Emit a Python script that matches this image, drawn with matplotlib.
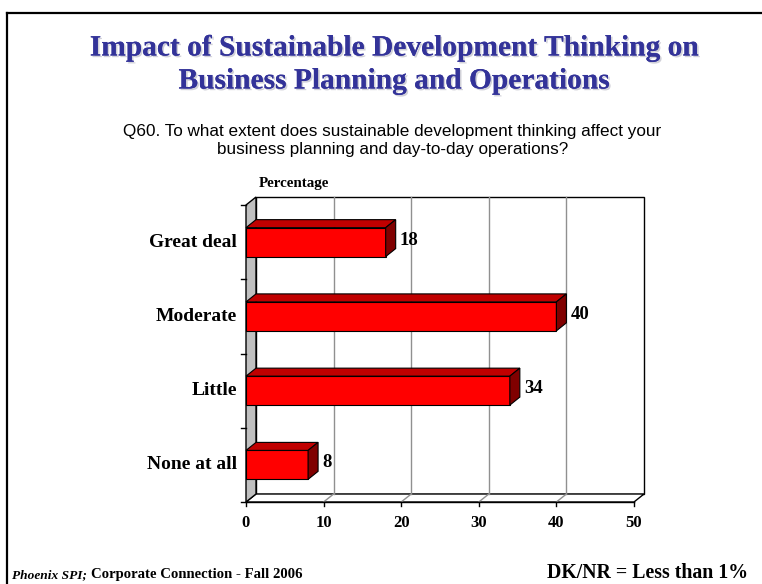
"""3D-style horizontal bar chart: sustainable development thinking impact."""

import matplotlib
matplotlib.use("Agg")
import matplotlib.pyplot as plt
import matplotlib.patheffects as pe
from matplotlib.patches import Polygon, Rectangle

categories = ["None at all", "Little", "Moderate", "Great deal"]
values = [8, 34, 40, 18]
xticks = [0, 10, 20, 30, 40, 50]

SERIF = "Liberation Serif"
SANS = "Liberation Sans"

W, H = 762, 584
fig = plt.figure(figsize=(W / 100, H / 100), dpi=100)

# frame lines (top and left)
fig.add_artist(plt.Line2D([7 / W, 1], [1 - 13 / H, 1 - 13 / H], color="black", lw=1.6))
fig.add_artist(plt.Line2D([7 / W, 7 / W], [0, 1 - 13 / H], color="black", lw=1.6))

# front plane of the plot in pixels: x 246..634, y 205..502
left, right, top, bottom = 246, 634, 205, 502
ax = fig.add_axes([left / W, 1 - bottom / H, (right - left) / W, (bottom - top) / H])
ax.set_xlim(0, 50)
ax.set_ylim(-0.5, 3.5)
ax.axis("off")

px_x = 50 / (right - left)
px_y = 4 / (bottom - top)
DX = 10 * px_x
DY = 8 * px_y
y0, y1 = -0.5, 3.5

# back wall
ax.add_patch(Rectangle((DX, y0 + DY), 50, y1 - y0, facecolor="white",
                       edgecolor="black", lw=1.0, clip_on=False, zorder=1))
# floor
ax.add_patch(Polygon([(0, y0), (50, y0), (50 + DX, y0 + DY), (DX, y0 + DY)],
                     closed=True, facecolor="white", edgecolor="black", lw=1.0,
                     clip_on=False, zorder=1))
# gridlines on back wall and floor
for t in xticks[1:-1]:
    ax.plot([t + DX, t + DX], [y0 + DY, y1 + DY], color="#909090", lw=1.0,
            clip_on=False, zorder=2)
    ax.plot([t, t + DX], [y0, y0 + DY], color="#909090", lw=1.0,
            clip_on=False, zorder=2)
# left wall
ax.add_patch(Polygon([(0, y0), (DX, y0 + DY), (DX, y1 + DY), (0, y1)],
                     closed=True, facecolor="#C0C0C0", edgecolor="black", lw=1.0,
                     clip_on=False, zorder=3))

# axis ticks
for i in range(len(categories) + 1):
    yy = y0 + i
    ax.plot([-5 * px_x, 0], [yy, yy], color="black", lw=1.0, clip_on=False, zorder=3)
for t in xticks:
    ax.plot([t, t], [y0, y0 - 4 * px_y], color="black", lw=1.0, clip_on=False, zorder=3)
    ax.text(t, y0 - 13 * px_y, str(t), ha="center", va="top", family=SERIF,
            fontweight="bold", fontsize=12)
ax.plot([0, 50], [y0, y0], color="black", lw=1.0, clip_on=False, zorder=3)

# bars
bh = 0.39
for i, (cat, v) in enumerate(zip(categories, values)):
    lo, hi = i - bh / 2, i + bh / 2
    ax.add_patch(Rectangle((0, lo), v, bh, facecolor="#FF0000", edgecolor="black",
                           lw=0.8, clip_on=False, zorder=5))
    ax.add_patch(Polygon([(0, hi), (v, hi), (v + DX, hi + DY), (DX, hi + DY)],
                         closed=True, facecolor="#C00000", edgecolor="black",
                         lw=0.8, clip_on=False, zorder=5))
    ax.add_patch(Polygon([(v, lo), (v + DX, lo + DY), (v + DX, hi + DY), (v, hi)],
                         closed=True, facecolor="#800000", edgecolor="black",
                         lw=0.8, clip_on=False, zorder=5))
    ax.text(v + DX + 4 * px_x, i + 2 * px_y, str(v), ha="left", va="center",
            family=SERIF, fontweight="bold", fontsize=13.5)
    ax.text(-9 * px_x, i, cat, ha="right", va="center", family=SERIF,
            fontweight="bold", fontsize=14)

# titles
shadow = [pe.withSimplePatchShadow(offset=(1.2, -1.2), shadow_rgbFace="#9A9AAA",
                                   alpha=0.45), pe.Normal()]
fig.text(394 / W, 1 - 48 / H, "Impact of Sustainable Development Thinking on",
         ha="center", va="center", family=SERIF, fontweight="bold", fontsize=21.2,
         color="#333399", path_effects=shadow)
fig.text(394 / W, 1 - 81 / H, "Business Planning and Operations",
         ha="center", va="center", family=SERIF, fontweight="bold", fontsize=21.2,
         color="#333399", path_effects=shadow)
fig.text(392 / W, 1 - 131 / H,
         "Q60. To what extent does sustainable development thinking affect your",
         ha="center", va="center", family=SANS, fontsize=12.3)
fig.text(393 / W, 1 - 149 / H, "business planning and day-to-day operations?",
         ha="center", va="center", family=SANS, fontsize=12.3)
fig.text(259 / W, 1 - 183 / H, "Percentage", ha="left", va="center",
         family=SERIF, fontweight="bold", fontsize=10.8)

# footer: italic part, then bold part right after it, on one baseline
base = 1 - 578 / H
t1 = fig.text(12 / W, base, "Phoenix SPI;", ha="left", va="baseline",
              family=SERIF, fontweight="bold", fontstyle="italic", fontsize=9.6)
fig.canvas.draw()
x_end = t1.get_window_extent().x1
fig.text((x_end + 4) / W, base, "Corporate Connection - Fall 2006",
         ha="left", va="baseline", family=SERIF, fontweight="bold", fontsize=10.6)
fig.text(748 / W, 1 - 578 / H, "DK/NR = Less than 1%", ha="right", va="baseline",
         family=SERIF, fontweight="bold", fontsize=14.3)

fig.savefig("out.png", dpi=100)
